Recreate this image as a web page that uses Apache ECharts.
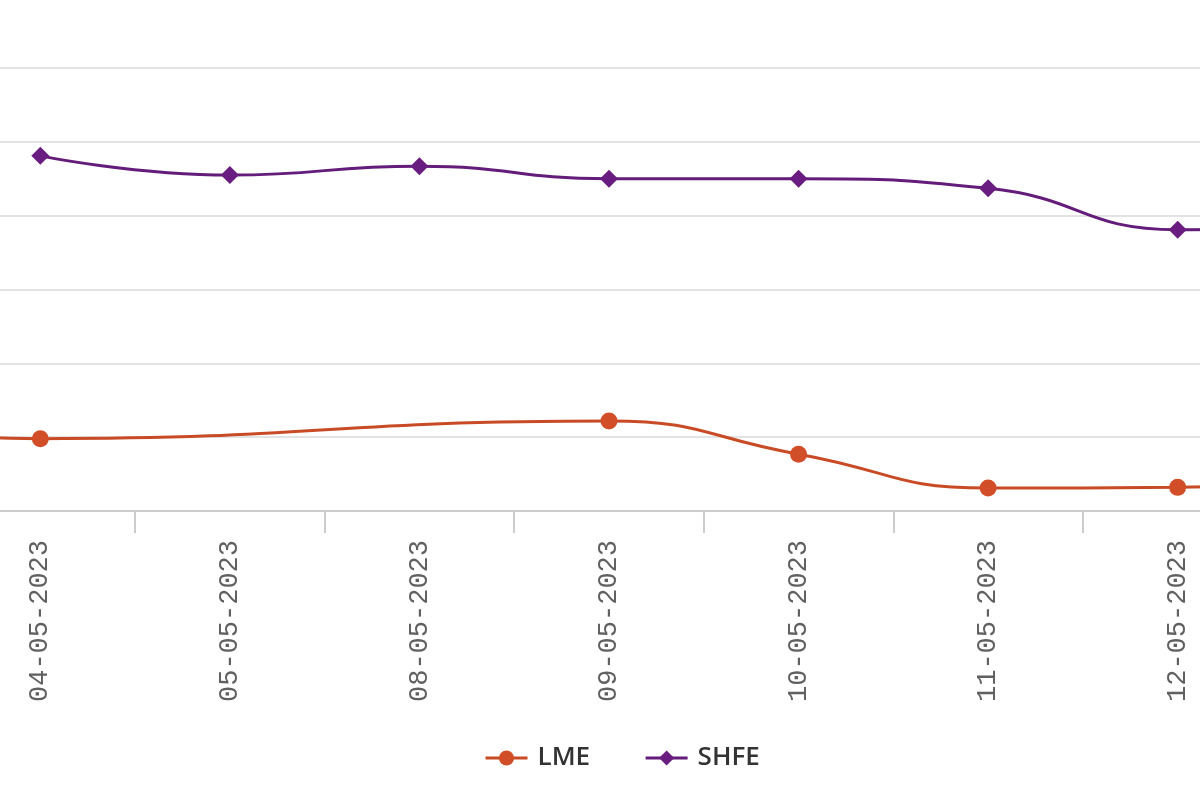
<!DOCTYPE html>
<html>
<head>
<meta charset="utf-8">
<script src="https://cdn.jsdelivr.net/npm/echarts@6/dist/echarts.min.js"></script>
<style>
  html, body { margin: 0; padding: 0; background: #fff; overflow: hidden; width: 1200px; height: 800px; }
  /* the reference is a crop of a wider chart, so the canvas sticks out on both sides */
  #main { position: absolute; left: -244px; top: 0; width: 1706px; height: 800px; }
</style>
</head>
<body>
<div id="main"></div>
<script>
// dates on the x axis (03-05 and 15-05 fall outside the visible crop)
const dates = ["03-05-2023", "04-05-2023", "05-05-2023", "08-05-2023", "09-05-2023",
  "10-05-2023", "11-05-2023", "12-05-2023", "15-05-2023"];
// LME had no prices on 05-05 and 08-05, SHFE none on 03-05
const lme = [2311, 2298, null, null, 2322, 2277, 2231, 2232, 2238];
const shfe = [null, 2681, 2655, 2667, 2650, 2650, 2637, 2581, 2582];

const chart = echarts.init(document.getElementById("main"));

const option = {
  animation: false,
  backgroundColor: "#ffffff",
  grid: {
    left: 0,
    right: 0,
    top: 68,
    bottom: 289,
    outerBoundsMode: "none",
  },
  legend: {
    left: 723,
    top: 740,
    itemWidth: 42,
    itemHeight: 19,
    itemGap: 54,
    lineStyle: { width: 3 },
    textStyle: {
      fontFamily: "Open Sans",
      fontWeight: 600,
      fontSize: 26,
      color: "#333333",
      padding: [0, 0, 0, 5],
    },
    data: ["LME", "SHFE"],
  },
  xAxis: {
    type: "category",
    data: dates,
    boundaryGap: true,
    axisLine: { lineStyle: { color: "#cccccc", width: 2 } },
    axisTick: { show: true, interval: 0, length: 22, lineStyle: { color: "#cccccc", width: 2 } },
    axisLabel: {
      rotate: 90,
      margin: 29,
      fontFamily: "Liberation Mono",
      fontSize: 27,
      color: "#606060",
    },
    splitLine: { show: false },
  },
  yAxis: {
    type: "value",
    min: 2200,
    max: 2800,
    interval: 100,
    axisLine: { show: false },
    axisTick: { show: false },
    axisLabel: { show: false },
    splitLine: { lineStyle: { color: "#e3e3e3", width: 2 } },
  },
  series: [
    {
      name: "LME",
      type: "line",
      data: lme,
      smooth: true,
      connectNulls: true,
      symbol: "circle",
      symbolSize: 17,
      color: "#d14e28",
      lineStyle: { width: 3, color: "#c94b26" },
      itemStyle: { color: "#d14e28" },
    },
    {
      name: "SHFE",
      type: "line",
      data: shfe,
      smooth: true,
      connectNulls: true,
      symbol: "diamond",
      symbolSize: 18,
      color: "#6a1d80",
      lineStyle: { width: 3, color: "#641c7a" },
      itemStyle: { color: "#6a1d80" },
    },
  ],
};

chart.setOption(option);
</script>
</body>
</html>
